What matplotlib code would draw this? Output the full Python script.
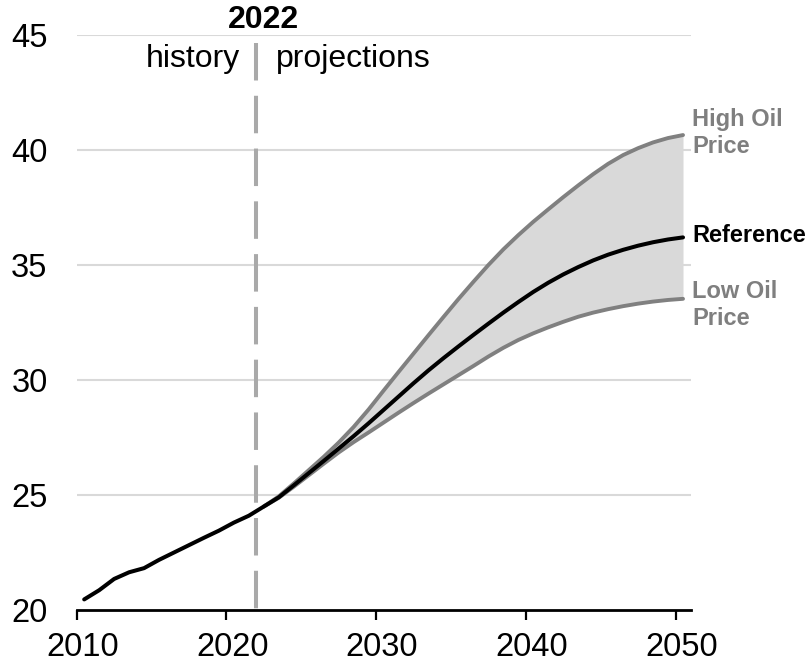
import matplotlib
matplotlib.use("Agg")
import matplotlib.pyplot as plt
import matplotlib.transforms as mtransforms
import numpy as np

plt.rcParams['font.family'] = ['Liberation Sans', 'DejaVu Sans']
plt.rcParams['lines.scale_dashes'] = False

# ---- data ----
years = list(range(2010, 2051))
reference = [20.46, 20.86, 21.35, 21.64, 21.82, 22.18, 22.50, 22.82, 23.14, 23.45,
             23.80, 24.10, 24.50, 24.90, 25.42, 25.95, 26.48, 27.02, 27.56, 28.12,
             28.70, 29.28, 29.86, 30.42, 30.95, 31.46, 31.96, 32.45, 32.93, 33.39,
             33.83, 34.23, 34.59, 34.91, 35.20, 35.45, 35.66, 35.84, 35.99, 36.11,
             36.20]
proj_years = list(range(2022, 2051))
high_oil = [24.50, 24.94, 25.50, 26.08, 26.66, 27.28, 27.96, 28.72, 29.54, 30.35,
            31.15, 31.95, 32.74, 33.52, 34.27, 35.00, 35.68, 36.30, 36.88, 37.42,
            37.95, 38.46, 38.95, 39.40, 39.78, 40.08, 40.33, 40.52, 40.65]
low_oil = [24.50, 24.88, 25.36, 25.86, 26.36, 26.85, 27.30, 27.72, 28.15, 28.58,
           29.00, 29.41, 29.81, 30.21, 30.61, 31.02, 31.40, 31.74, 32.03, 32.29,
           32.53, 32.75, 32.93, 33.08, 33.21, 33.32, 33.41, 33.48, 33.53]
x_ticks = [2010, 2020, 2030, 2040, 2050]
y_ticks = [20, 25, 30, 35, 40, 45]
divider_year = 2022

# plotted at year centres
x_ref = np.array(years) + 0.5
x_proj = np.array(proj_years) + 0.5

fig = plt.figure(figsize=(8.09, 6.62), dpi=100)
ax = fig.add_axes([76.7 / 809, 1 - 610 / 662, (690.5 - 76.7) / 809, (610 - 35) / 662])

ax.set_xlim(2010, 2051)
ax.set_ylim(20, 45)

# grid
for yv in y_ticks[1:]:
    ax.axhline(yv, color='#d9d9d9', lw=1.5, zorder=0)

ax.fill_between(x_proj, low_oil, high_oil, color='#d9d9d9', lw=0, zorder=1)
ax.plot(x_proj, high_oil, color='#808080', lw=2.8, zorder=2, solid_capstyle='round',
        solid_joinstyle='round')
ax.plot(x_proj, low_oil, color='#808080', lw=2.8, zorder=2, solid_capstyle='round',
        solid_joinstyle='round')
ax.plot(x_ref, reference, color='black', lw=2.9, zorder=3, solid_capstyle='round',
        solid_joinstyle='round')

# divider
ax.plot([divider_year, divider_year], [44.65, 20], color='#a9a9a9', lw=2.9,
        dashes=(27, 11), zorder=1.5, dash_capstyle='butt')

# spines/ticks
for s in ['top', 'right', 'left']:
    ax.spines[s].set_visible(False)
ax.spines['bottom'].set_linewidth(2.0)
ax.spines['bottom'].set_zorder(4)
ax.set_xticks(x_ticks)
ax.set_yticks(y_ticks)
ax.tick_params(axis='x', direction='out', length=7, width=1.6, labelsize=23.5, pad=9)
ax.tick_params(axis='y', length=0, labelsize=23.5, pad=21)
shift = mtransforms.ScaledTranslation(6 / 100, 0, fig.dpi_scale_trans)
for lbl in ax.get_xticklabels():
    lbl.set_transform(lbl.get_transform() + shift)

# annotations
ax.text(2022.45, 45.29, '2022', ha='center', va='baseline', fontsize=23,
        fontweight='bold', clip_on=False)
ax.text(2020.9, 43.6, 'history', ha='right', va='baseline', fontsize=23)
ax.text(2023.3, 43.6, 'projections', ha='left', va='baseline', fontsize=23)

lab_x = 2051.1
ax.text(lab_x, 39.86, 'High Oil\nPrice', ha='left', va='baseline', fontsize=17,
        fontweight='bold', color='#7f7f7f', linespacing=1.25, clip_on=False)
ax.text(lab_x, 36.01, 'Reference', ha='left', va='baseline', fontsize=17,
        fontweight='bold', color='black', clip_on=False)
ax.text(lab_x, 32.39, 'Low Oil\nPrice', ha='left', va='baseline', fontsize=17,
        fontweight='bold', color='#7f7f7f', linespacing=1.25, clip_on=False)

fig.savefig('out.png', dpi=100)
